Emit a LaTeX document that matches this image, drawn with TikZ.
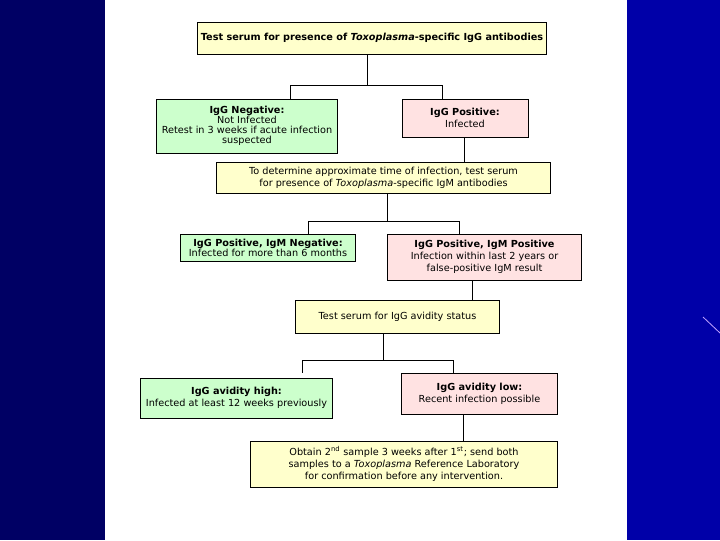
\documentclass[tikz,border=0pt]{standalone}
\usepackage{fontspec}
\setmainfont{DejaVu Sans}
\definecolor{boxyellow}{RGB}{255,255,204}
\definecolor{boxgreen}{RGB}{204,255,204}
\definecolor{boxpink}{RGB}{255,226,226}
\definecolor{slidenavy}{RGB}{0,0,100}
\definecolor{slideblue}{RGB}{0,0,168}
\definecolor{streak}{RGB}{190,160,255}
\tikzset{
  box/.style={draw, line width=0.7pt, inner sep=1pt, align=center,
    font=\fontsize{6.9}{8.4}\selectfont},
  tight/.style={font=\fontsize{6.9}{7.1}\selectfont},
  yellowbox/.style={box, fill=boxyellow},
  greenbox/.style={box, fill=boxgreen},
  pinkbox/.style={box, fill=boxpink},
  link/.style={line width=0.7pt}
}
\begin{document}
\begin{tikzpicture}[x=0.025cm, y=-0.025cm]
    \useasboundingbox (0,0) rectangle (720,540);

    % Fond
    \fill[slidenavy] (0,0) rectangle (105,540);
    \fill[white] (105,0) rectangle (627,540);
    \fill[slideblue] (627,0) rectangle (720,540);
    \draw[streak, line width=0.6pt] (703,317) -- (720,333);

    % Boites
    \node[yellowbox, minimum width=8.7cm, minimum height=0.8cm] (igg) at (372,38)
        {\textbf{Test serum for presence of \textit{Toxoplasma}-specific IgG antibodies}};
    \node[greenbox, tight, minimum width=4.5cm, minimum height=1.35cm] (iggneg) at (247,126)
        {\textbf{IgG Negative:}\\Not Infected\\Retest in 3 weeks if acute infection\\suspected};
    \node[pinkbox, minimum width=3.15cm, minimum height=0.95cm] (iggpos) at (465,118)
        {\textbf{IgG Positive:}\\Infected};
    \node[yellowbox, minimum width=8.325cm, minimum height=0.775cm] (igm) at (383.5,177.5)
        {To determine approximate time of infection, test serum\\for presence of \textit{Toxoplasma}-specific IgM antibodies};
    \node[greenbox, tight, minimum width=4.35cm, minimum height=0.675cm] (igmneg) at (268,247.5)
        {\textbf{IgG Positive, IgM Negative:}\\Infected for more than 6 months};
    \node[pinkbox, minimum width=4.825cm, minimum height=1.15cm] (igmpos) at (484.5,257)
        {\textbf{IgG Positive, IgM Positive}\\Infection within last 2 years or\\false-positive IgM result};
    \node[yellowbox, minimum width=5.075cm, minimum height=0.825cm] (avid) at (397.5,316.5)
        {Test serum for IgG avidity status};
    \node[greenbox, minimum width=4.775cm, minimum height=1cm] (high) at (236.5,398)
        {\textbf{IgG avidity high:}\\Infected at least 12 weeks previously};
    \node[pinkbox, minimum width=3.875cm, minimum height=1.025cm] (low) at (479.5,393.5)
        {\textbf{IgG avidity low:}\\Recent infection possible};
    \node[yellowbox, minimum width=7.65cm, minimum height=1.15cm] (lab) at (404,464)
        {Obtain 2\textsuperscript{nd} sample 3 weeks after 1\textsuperscript{st}; send both\\samples to a \textit{Toxoplasma} Reference Laboratory\\for confirmation before any intervention.};

    % Points de branchement
    \coordinate (s1) at (367,85);
    \coordinate (l1) at (290,85);
    \coordinate (r1) at (442,85);
    \coordinate (s2) at (387,221);
    \coordinate (l2) at (308,221);
    \coordinate (r2) at (459,221);
    \coordinate (s3) at (383,360);
    \coordinate (l3) at (302,360);
    \coordinate (r3) at (453,360);

    % Liaisons
    \draw[link] (s1 |- igg.south) -- (s1);
    \draw[link] (l1 |- iggneg.north) -- (l1) -- (r1) -- (r1 |- iggpos.north);
    \draw[link] ([xshift=-0.025cm]iggpos.south) -- ([xshift=-0.025cm]iggpos.south |- igm.north);
    \draw[link] (s2 |- igm.south) -- (s2);
    \draw[link] (l2 |- igmneg.north) -- (l2) -- (r2) -- (r2 |- igmpos.north);
    \draw[link] ([xshift=-0.3cm]igmpos.south) -- ([xshift=-0.3cm]igmpos.south |- avid.north);
    \draw[link] (s3 |- avid.south) -- (s3);
    \draw[link] (l3 |- low.north) -- (l3) -- (r3) -- (r3 |- low.north);
    \draw[link] ([xshift=-0.4cm]low.south) -- ([xshift=-0.4cm]low.south |- lab.north);

\end{tikzpicture}
\end{document}
